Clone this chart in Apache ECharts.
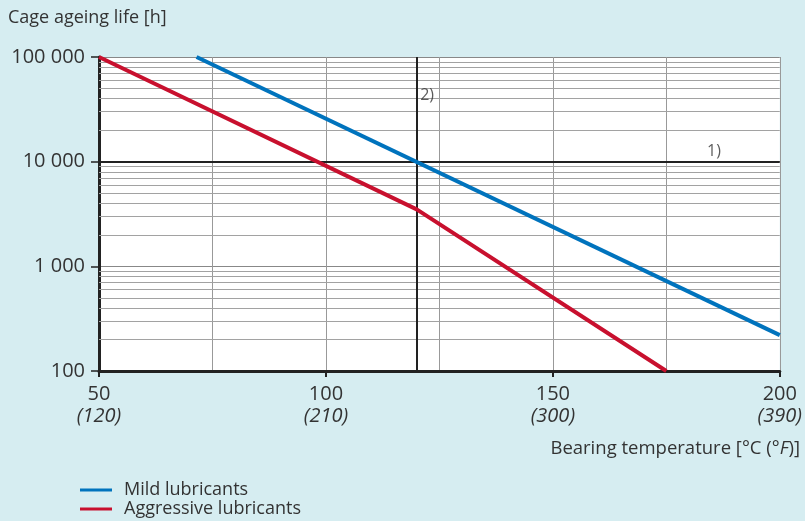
<!DOCTYPE html>
<html><head><meta charset="utf-8">
<script src="https://cdn.jsdelivr.net/npm/echarts@6/dist/echarts.min.js"></script>
<style>html,body{margin:0;padding:0;background:#d6edf1}#c{width:805px;height:521px}</style>
</head><body><div id="c"></div>
<script>
const seriesNames = ['Mild lubricants', 'Aggressive lubricants'];
const mildData = [[71.5, 100000], [200, 220]];
const aggressiveData = [[50, 100000], [120, 3500], [175, 100]];
const xTicksC = [50, 100, 150, 200];
const xTicksF = ['(120)', '(210)', '(300)', '(390)'];
const yTicks = [100, 1000, 10000, 100000];
const minorY = [200,300,400,500,600,700,800,900,2000,3000,4000,5000,6000,7000,8000,9000,20000,30000,40000,50000,60000,70000,80000,90000];
const refX = 120, refY = 10000;
const notes = [{text: '2)', x: 122.3, y: 43000}, {text: '1)', x: 185.5, y: 12500}];

const FONT = 'Open Sans';
const fmtNum = v => String(v).replace(/\B(?=(\d{3})+(?!\d))/g, ' ');
const chart = echarts.init(document.getElementById('c'));
chart.setOption({
  backgroundColor: '#d6edf1',
  animation: false,
  textStyle: {fontFamily: FONT, color: '#333'},
  grid: {left: 99, right: 24, top: 57, bottom: 150, backgroundColor: '#fff', show: true, borderWidth: 0},
  title: {text: 'Cage ageing life [h]', left: 3, top: 4, textStyle: {fontFamily: FONT, fontSize: 18, fontWeight: 'normal', color: '#333'}},
  legend: {
    orient: 'vertical', left: 80, top: 481, padding: 0, itemWidth: 32, itemHeight: 3, itemGap: 1, icon: 'rect',
    textStyle: {fontFamily: FONT, fontSize: 18, lineHeight: 18, color: '#333', padding: [0,0,0,7]},
    data: seriesNames
  },
  graphic: [{
    type: 'text', right: 5, top: 439,
    style: {
      text: '{a|Bearing temperature [°C (}{b|°F}{a|)]}',
      rich: {a: {fontFamily: FONT, fontSize: 18.5, fill: '#333'}, b: {fontFamily: FONT, fontSize: 18.5, fontStyle: 'italic', fill: '#333'}}
    }
  }],
  xAxis: [{
    type: 'value', min: 50, max: 200, interval: 50,
    axisLine: {show: true, lineStyle: {color: '#222', width: 3}},
    axisTick: {show: true, length: 6, lineStyle: {color: '#222', width: 2}},
    splitLine: {show: false},
    axisLabel: {
      margin: 12, lineHeight: 22,
      formatter: v => { const i = xTicksC.indexOf(v); return i < 0 ? '' : '{a|' + v + '}\n{b|' + xTicksF[i] + '}'; },
      rich: {a: {fontFamily: FONT, fontSize: 20, color: '#333', lineHeight: 22}, b: {fontFamily: FONT, fontSize: 20, fontStyle: 'italic', color: '#333', lineHeight: 22}}
    }
  }, {
    type: 'value', min: 50, max: 200, interval: 25, position: 'bottom',
    axisLine: {show: false}, axisTick: {show: false}, axisLabel: {show: false},
    splitLine: {show: true, lineStyle: {color: '#999', width: 1}}
  }],
  yAxis: {
    type: 'log', logBase: 10, min: 100, max: 100000,
    axisLine: {show: true, lineStyle: {color: '#222', width: 3}},
    axisTick: {show: true, length: 8, lineStyle: {color: '#222', width: 1.5}},
    splitLine: {show: true, lineStyle: {color: '#888', width: 1}},
    axisLabel: {fontFamily: FONT, fontSize: 20, color: '#333', margin: 14, formatter: v => yTicks.includes(v) ? fmtNum(v) : ''}
  },
  series: [{
    name: 'grid', type: 'line', data: [], silent: true,
    markLine: {
      symbol: 'none', silent: true, label: {show: false},
      lineStyle: {color: '#a2a2a2', width: 1, type: 'solid'},
      data: minorY.map(v => ({yAxis: v}))
    }
  }, {
    name: 'ref', type: 'line', data: [], silent: true, z: 3,
    markLine: {
      symbol: 'none', silent: true, label: {show: false},
      lineStyle: {color: '#222', width: 2, type: 'solid'},
      data: [{xAxis: refX}, {yAxis: refY}]
    }
  }, {
    name: seriesNames[0], type: 'line', data: mildData, showSymbol: false, z: 5,
    itemStyle: {color: '#0073bd'}, lineStyle: {color: '#0073bd', width: 4}
  }, {
    name: seriesNames[1], type: 'line', data: aggressiveData, showSymbol: false, z: 5,
    itemStyle: {color: '#c8102e'}, lineStyle: {color: '#c8102e', width: 4}
  }, {
    name: 'notes', type: 'scatter', symbolSize: 0, silent: true, z: 6,
    data: notes.map(n => ({value: [n.x, n.y], name: n.text})),
    label: {show: true, position: 'inside', formatter: p => p.name, fontFamily: FONT, fontSize: 16, color: '#333'}
  }]
});
</script></body></html>
